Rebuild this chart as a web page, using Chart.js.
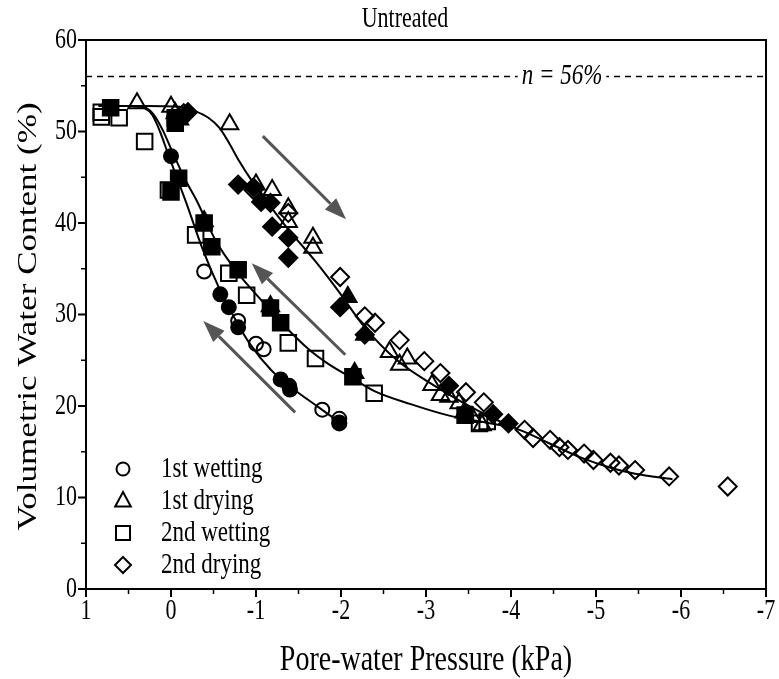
<!DOCTYPE html>
<html>
<head>
<meta charset="utf-8">
<script src="https://cdn.jsdelivr.net/npm/chart.js@4.4.0/dist/chart.umd.min.js"></script>
<style>
html, body { margin: 0; padding: 0; background: #fff; }
</style>
</head>
<body>
<canvas id="swccChart" width="779" height="679"></canvas>
<script>
// pontos: [pressão (kPa), teor volumétrico (%)]
const wet1Open = [[-0.39,34.7],[-0.79,29.3],[-1.0,26.8],[-1.09,26.2],[-1.78,19.6],[-1.98,18.6],[-1.98,18.2]];
const wet1Filled = [[0.0,47.3],[-0.58,32.2],[-0.68,30.8],[-0.79,28.6],[-1.29,22.9],[-1.39,22.2],[-1.4,21.8],[-1.98,18.1]];
const dry1Open = [[0.4,53.1],[0.0,52.7],[-0.05,52.0],[-0.69,50.8],[-1.0,44.2],[-1.19,43.6],[-1.38,41.6],[-1.38,40.1],
    [-1.67,38.4],[-1.67,37.3],[-2.57,25.9],[-2.69,24.5],[-2.78,25.2],[-3.07,22.3],[-3.17,21.2],[-3.27,21.0],
    [-3.39,20.3],[-3.54,18.8],[-3.66,17.9]];
const dry1Filled = [[-0.1,51.3],[-0.39,40.2],[-1.17,30.9],[-2.08,31.9],[-2.28,27.8],[-2.16,23.6],[-3.45,19.3]];
const wet2Open = [[0.82,52.1],[0.82,51.6],[0.61,51.5],[0.31,48.9],[0.03,43.6],[-0.29,38.7],[-0.68,34.5],[-0.89,32.1],
    [-1.38,26.9],[-1.70,25.2],[-2.39,21.4],[-3.63,18.1],[-3.72,18.3]];
const wet2Filled = [[0.71,52.6],[-0.05,51.5],[-0.05,50.9],[0.0,43.4],[-0.09,44.9],[-0.39,40.0],[-0.48,37.4],[-0.79,34.9],
    [-1.17,30.7],[-1.29,29.1],[-2.14,23.2],[-3.46,19.0]];
const dry2Open = [[-0.15,52.0],[-0.97,43.6],[-1.38,41.1],[-1.99,34.1],[-2.28,29.8],[-2.40,29.1],[-2.69,27.2],[-2.98,24.9],
    [-3.17,23.6],[-3.47,21.5],[-3.68,20.4],[-4.16,17.4],[-4.26,16.5],[-4.46,16.3],[-4.57,15.5],[-4.67,15.2],
    [-4.86,14.8],[-4.97,14.1],[-5.17,13.8],[-5.27,13.5],[-5.46,13.0],[-5.86,12.3],[-6.55,11.2]];
const dry2Filled = [[-0.2,52.1],[-0.79,44.2],[-0.97,43.9],[-1.06,42.3],[-1.17,42.2],[-1.19,39.6],[-1.38,38.4],[-1.38,36.2],
    [-1.99,30.8],[-2.28,27.8],[-3.27,22.2],[-3.79,19.1],[-3.97,18.1]];

// curvas ajustadas
const fitWet1 = [[0.85,52.8],[0.45,52.8],[0.32,52.6],[0.22,51.8],[0.13,50.0],[0.04,47.7],[-0.08,44.7],[-0.18,42.2],
    [-0.37,37.2],[-0.57,32.8],[-0.76,29.4],[-0.92,26.9],[-1.18,23.9],[-1.42,22.0],[-1.73,19.9],[-2.0,18.1]];
const fitWet2 = [[0.85,52.8],[0.45,52.8],[0.3,52.6],[0.2,51.8],[0.1,50.2],[-0.02,47.7],[-0.17,44.7],[-0.31,42.3],
    [-0.53,38.0],[-0.78,34.6],[-1.03,31.9],[-1.3,29.1],[-1.62,26.2],[-1.85,24.6],[-2.12,23.1],[-2.4,21.6],
    [-2.82,20.2],[-3.25,19.0],[-3.7,18.2],[-4.0,17.7]];
const fitDry = [[0.85,52.8],[0.3,52.8],[-0.1,52.7],[-0.29,52.2],[-0.44,51.5],[-0.57,50.4],[-0.68,48.8],[-0.8,46.8],
    [-0.93,44.9],[-1.1,42.7],[-1.38,39.3],[-1.7,35.8],[-1.95,32.8],[-2.28,28.6],[-2.66,25.0],[-3.05,22.5],
    [-3.45,20.3],[-3.83,18.5],[-4.2,17.0],[-4.84,14.3],[-5.19,13.2],[-5.46,12.6],[-5.9,12.0]];

const porosity = 56;
const xTicks = [1, 0, -1, -2, -3, -4, -5, -6, -7];
const yTicks = [0, 10, 20, 30, 40, 50, 60];
const legendLabels = ['1st wetting', '1st drying', '2nd wetting', '2nd drying'];
// setas (x1, y1 -> x2, y2) em unidades dos dados
const arrows = [[-1.08,49.5,-2.06,40.4],[-2.05,25.6,-0.95,35.6],[-1.46,19.3,-0.38,29.3]];

const FONT = "'Liberation Serif', 'Times New Roman', serif";
const STRETCH = 1.3; // o original está esticado na vertical

function toXY(arr) {
    return arr.map(p => ({ x: p[0], y: p[1] }));
}

function markerSet(label, arr, style, filled, radius) {
    return {
        type: 'scatter',
        label: label,
        data: toXY(arr),
        pointStyle: style,
        pointRadius: radius,
        pointHoverRadius: radius,
        pointBorderWidth: 2,
        pointBorderColor: '#000',
        pointBackgroundColor: filled ? '#000' : 'rgba(0,0,0,0)',
        showLine: false
    };
}

function fitSet(arr) {
    return {
        type: 'line',
        label: 'fit',
        data: toXY(arr),
        borderColor: '#000',
        borderWidth: 2,
        pointRadius: 0,
        cubicInterpolationMode: 'monotone',
        fill: false
    };
}

// texto esticado na vertical (ou ao longo do texto, se rodado)
function stretchText(ctx, text, x, y, size, opts) {
    opts = opts || {};
    ctx.save();
    ctx.translate(x, y);
    if (opts.rotate) {
        ctx.rotate(-Math.PI / 2);
        ctx.scale(STRETCH, 1);
    } else {
        ctx.scale(1, STRETCH);
    }
    ctx.font = (opts.italic ? 'italic ' : '') + size + 'px ' + FONT;
    ctx.textAlign = opts.align || 'center';
    ctx.textBaseline = 'middle';
    ctx.fillStyle = '#000';
    ctx.fillText(text, 0, 0);
    ctx.restore();
}

function drawShape(ctx, style, x, y, r) {
    ctx.beginPath();
    if (style === 'circle') {
        ctx.arc(x, y, r, 0, Math.PI * 2);
    } else if (style === 'triangle') {
        ctx.moveTo(x, y - r);
        ctx.lineTo(x + r * 0.87, y + r * 0.6);
        ctx.lineTo(x - r * 0.87, y + r * 0.6);
        ctx.closePath();
    } else if (style === 'rect') {
        ctx.rect(x - r, y - r, 2 * r, 2 * r);
    } else {
        ctx.moveTo(x, y - r);
        ctx.lineTo(x + r, y);
        ctx.lineTo(x, y + r);
        ctx.lineTo(x - r, y);
        ctx.closePath();
    }
    ctx.stroke();
}

const extrasPlugin = {
    id: 'extras',
    afterDraw(chart) {
        const ctx = chart.ctx;
        const area = chart.chartArea;
        const xs = chart.scales.x;
        const ys = chart.scales.y;
        ctx.save();

        // moldura
        ctx.strokeStyle = '#000';
        ctx.lineWidth = 2;
        ctx.strokeRect(area.left, area.top, area.right - area.left, area.bottom - area.top);

        // ticks
        ctx.lineWidth = 2;
        xTicks.forEach(v => {
            const px = xs.getPixelForValue(v);
            ctx.beginPath();
            ctx.moveTo(px, area.bottom);
            ctx.lineTo(px, area.bottom + 8);
            ctx.stroke();
            stretchText(ctx, String(v), px, area.bottom + 22, 22);
        });
        yTicks.forEach(v => {
            const py = ys.getPixelForValue(v);
            ctx.beginPath();
            ctx.moveTo(area.left, py);
            ctx.lineTo(area.left - 8, py);
            ctx.stroke();
            stretchText(ctx, String(v), area.left - 9, py, 22, { align: 'right' });
        });
        ctx.lineWidth = 1.5;
        for (let v = 0.5; v > -7; v -= 1) {
            const px = xs.getPixelForValue(v);
            ctx.beginPath();
            ctx.moveTo(px, area.bottom);
            ctx.lineTo(px, area.bottom + 5);
            ctx.stroke();
        }
        for (let v = 5; v < 60; v += 10) {
            const py = ys.getPixelForValue(v);
            ctx.beginPath();
            ctx.moveTo(area.left, py);
            ctx.lineTo(area.left - 5, py);
            ctx.stroke();
        }

        // títulos dos eixos
        stretchText(ctx, 'Pore-water Pressure (kPa)', (area.left + area.right) / 2, 660, 28);
        stretchText(ctx, 'Volumetric Water Content (%)', 29, (area.top + area.bottom) / 2 + 2, 27, { rotate: true });

        // setas
        ctx.strokeStyle = '#555';
        ctx.fillStyle = '#555';
        arrows.forEach(a => {
            const x1 = xs.getPixelForValue(a[0]), y1 = ys.getPixelForValue(a[1]);
            const x2 = xs.getPixelForValue(a[2]), y2 = ys.getPixelForValue(a[3]);
            const ang = Math.atan2(y2 - y1, x2 - x1);
            const headLen = 22, headW = 8;
            const bx = x2 - headLen * Math.cos(ang), by = y2 - headLen * Math.sin(ang);
            ctx.lineWidth = 3;
            ctx.beginPath();
            ctx.moveTo(x1, y1);
            ctx.lineTo(bx, by);
            ctx.stroke();
            ctx.beginPath();
            ctx.moveTo(x2, y2);
            ctx.lineTo(bx + headW * Math.sin(ang), by - headW * Math.cos(ang));
            ctx.lineTo(bx - headW * Math.sin(ang), by + headW * Math.cos(ang));
            ctx.closePath();
            ctx.fill();
        });

        // rótulo da porosidade
        const nText = 'n = ' + porosity + '%';
        ctx.font = 'italic 23px ' + FONT;
        const tw = ctx.measureText(nText).width;
        const ny = ys.getPixelForValue(porosity);
        const nx = xs.getPixelForValue(-4.6);
        ctx.fillStyle = '#fff';
        ctx.fillRect(nx - tw / 2 - 4, ny - 10, tw + 8, 20);
        stretchText(ctx, nText, nx, ny, 23, { italic: true });

        // título
        stretchText(ctx, 'Untreated', 405, 19, 22);

        // legenda
        const styles = ['circle', 'triangle', 'rect', 'diamond'];
        const sizes = [6.5, 9, 7, 8];
        ctx.strokeStyle = '#000';
        ctx.lineWidth = 2;
        legendLabels.forEach((lab, i) => {
            const ly = 469 + i * 32;
            drawShape(ctx, styles[i], 123, ly, sizes[i]);
            stretchText(ctx, lab, 161, ly, 23, { align: 'left' });
        });

        ctx.restore();
    }
};

const ctx = document.getElementById('swccChart').getContext('2d');
const swccChart = new Chart(ctx, {
    data: {
        datasets: [
            {
                type: 'line',
                label: 'porosity',
                data: [{ x: 1, y: porosity }, { x: -7, y: porosity }],
                borderColor: '#000',
                borderWidth: 1.5,
                borderDash: [6, 5],
                pointRadius: 0
            },
            fitSet(fitWet1),
            fitSet(fitWet2),
            fitSet(fitDry),
            markerSet('1st wetting', wet1Open, 'circle', false, 7),
            markerSet('1st wetting b', wet1Filled, 'circle', true, 7),
            markerSet('1st drying', dry1Open, 'triangle', false, 10),
            markerSet('1st drying b', dry1Filled, 'triangle', true, 10),
            markerSet('2nd wetting', wet2Open, 'rect', false, 11),
            markerSet('2nd wetting b', wet2Filled, 'rect', true, 11),
            markerSet('2nd drying', dry2Open, 'rectRot', false, 9),
            markerSet('2nd drying b', dry2Filled, 'rectRot', true, 9)
        ]
    },
    options: {
        responsive: false,
        animation: false,
        layout: {
            padding: { left: 0, right: 9, top: 40, bottom: 0 }
        },
        plugins: {
            legend: { display: false },
            tooltip: { enabled: false }
        },
        scales: {
            x: {
                type: 'linear',
                min: -7,
                max: 1,
                reverse: true,
                afterFit: (scale) => { scale.height = 90; },
                ticks: { display: false },
                grid: { display: false },
                border: { display: true, color: '#000', width: 2 }
            },
            y: {
                type: 'linear',
                min: 0,
                max: 60,
                afterFit: (scale) => { scale.width = 86; },
                ticks: { display: false },
                grid: { display: false },
                border: { display: true, color: '#000', width: 2 }
            }
        }
    },
    plugins: [extrasPlugin]
});
</script>
</body>
</html>
